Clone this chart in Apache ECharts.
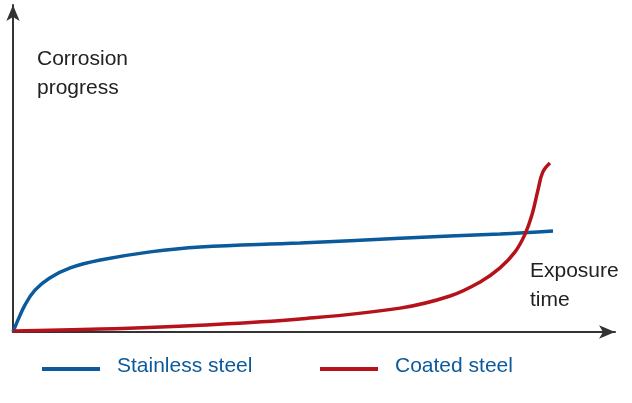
<!DOCTYPE html><html><head><meta charset="utf-8">
<script src="https://cdn.jsdelivr.net/npm/echarts@6/dist/echarts.min.js"></script>
<style>html,body{margin:0;background:#fff}#c{width:632px;height:403px}</style></head><body><div id="c"></div>
<script>
const stainlessX=[0,0.83,2.0,3.65,6.1,9.5,14.5,22.8,31.1,47.7,64.3,80.9,89.7];
const stainlessY=[0,3.7,8.3,12.8,16.5,19.6,22.0,24.5,26.0,27.2,28.7,30.0,30.9];
const coatedX=[0,14.5,31.1,47.7,64.3,72.6,77.6,80.9,83.4,85.0,86.2,87.2,88.0,89.2];
const coatedY=[0.3,0.9,2.1,4.0,7.3,11.0,15.3,19.6,24.5,29.7,35.8,43.4,48.9,51.7];
const blue='#0a5a9c', red='#b5121b';
const font='"Liberation Sans", Arial, sans-serif';
const chart=echarts.init(document.getElementById('c'));
const ax={type:'value',min:0,max:100,splitLine:{show:false},axisTick:{show:false},axisLabel:{show:false},
  axisLine:{onZero:false,lineStyle:{color:'#333',width:2},symbol:['none','arrow'],symbolSize:[10,16]}};
chart.setOption({
  animation:false,
  grid:{left:13,right:17,top:5,bottom:71},
  xAxis:ax, yAxis:ax,
  series:[
    {type:'line',smooth:0.4,symbol:'none',data:stainlessX.map((x,i)=>[x,stainlessY[i]]),lineStyle:{color:blue,width:3.5}},
    {type:'line',smooth:0.4,symbol:'none',data:coatedX.map((x,i)=>[x,coatedY[i]]),lineStyle:{color:red,width:3.5}}
  ],
  graphic:[
    {type:'text',left:37,top:45,style:{text:'Corrosion\nprogress',font:'21px '+font,fill:'#222',lineHeight:29}},
    {type:'text',left:530,top:257,style:{text:'Exposure\ntime',font:'21px '+font,fill:'#222',lineHeight:29}},
    {type:'line',shape:{x1:42,y1:369,x2:100,y2:369},style:{stroke:blue,lineWidth:4}},
    {type:'text',left:117,top:356,style:{text:'Stainless steel',font:'21px '+font,fill:blue}},
    {type:'line',shape:{x1:320,y1:369,x2:378,y2:369},style:{stroke:red,lineWidth:4}},
    {type:'text',left:395,top:356,style:{text:'Coated steel',font:'21px '+font,fill:blue}}
  ]
});
</script></body></html>
